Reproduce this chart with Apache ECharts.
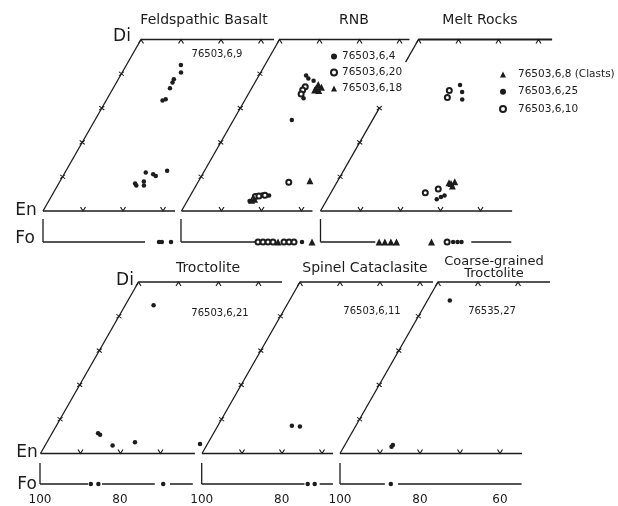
<!DOCTYPE html>
<html>
<head>
<meta charset="utf-8">
<script src="https://cdn.jsdelivr.net/npm/echarts@6/dist/echarts.min.js"></script>
<style>
  html, body { margin: 0; padding: 0; background: #fff; }
  #chart { width: 618px; height: 506px; }
</style>
</head>
<body>
<div id="chart"></div>
<script>
// ---- Pyroxene analyses: [Mg# = 100·Mg/(Mg+Fe), Wo mol%] ----
const basalt_6_9 = [[86.4,42.6],[85.3,40.4],[86.1,38.4],[86.0,37.5],[85.8,35.8],[85.3,32.6],[85.9,32.2],
                    [79.8,11.2],[77.7,10.7],[76.8,10.2],[74.7,11.7],[79.0,8.6],[78.4,7.4],[80.9,8.0],[80.3,7.4]];
const rnb_6_4  = [[88.2,39.5],[87.2,38.6],[85.6,38.0],[85.6,32.9],[85.4,26.5],[84.4,2.9],[82.1,4.8],[80.3,4.5]];
const rnb_6_20 = [[86.8,36.2],[87.0,35.3],[86.8,34.1],[77.3,8.4],[83.6,4.2],[82.8,4.4],[81.4,4.6]];
const rnb_6_18 = [[83.9,36.9],[83.9,35.8],[82.7,36.1],[82.9,35.1],[84.0,35.3],[72.2,8.8],[84.0,3.1],[83.4,3.4]];
const melt_6_8  = [[71.3,8.0],[70.6,8.5],[70.6,7.3],[71.9,8.2]];
const melt_6_25 = [[83.1,36.7],[81.6,34.7],[80.5,32.5],[72.6,3.4],[71.9,4.1],[71.2,4.5]];
const melt_6_10 = [[85.0,35.1],[84.5,33.1],[76.4,5.3],[73.7,6.4]];
const troct_6_21  = [[92.9,43.2],[88.5,5.9],[87.8,5.5],[83.1,2.3],[78.0,3.3],[61.5,2.8]];
const spinel_6_11 = [[81.5,8.1],[79.4,7.9]];
const coarse_27   = [[94.4,44.6],[88.1,2.0],[88.0,2.5]];

// ---- Olivine analyses: Fo mol% ----
const basaltOl_6_9 = [71.0, 70.3, 68.0];
const rnbOl_6_4  = [69.75];
const rnbOl_6_20 = [80.75, 79.5, 78.25, 77.0, 74.25, 73.0, 71.75];
const rnbOl_6_18 = [75.75, 67.25];
const meltOl_6_8  = [85.35, 83.9, 82.4, 81.0, 72.25];
const meltOl_6_25 = [66.85, 65.75, 64.75];
const meltOl_6_10 = [68.35];
const troctOl_6_21  = [87.3, 85.4, 69.2];
const spinelOl_6_11 = [73.5, 71.75];
const coarseOl_27   = [87.3];

// ---- Fo reference line pieces (gaps leave room for the symbols) ----
const basaltFoLine = [[100, 74.5]];
const rnbFoLine    = [[100, 81.2]];
const meltFoLine   = [[100, 86.3], [62.3, 52.3]];
const troctFoLine  = [[100, 88], [84.5, 71.3], [67.5, 61.8]];
const spinelFoLine = [[100, 74.3], [70.5, 67.2]];
const coarseFoLine = [[100, 88.8], [85.5, 54.6]];

// ---- Tick values ----
const mgTicksShort = [90, 80, 70];
const mgTicksLong  = [90, 80, 70, 60];
const diTicks      = [100, 90, 80, 70];
const diTicksShort = [100, 90, 80];
const woTicks      = [10, 20, 30, 40];
const woTicksShort = [10, 20, 30];
const foLabelsD = [100, 80];
const foLabelsE = [100, 80];
const foLabelsF = [100, 80, 60];

const INK = '#1c1c1c';
const FONT = '"DejaVu Sans", "Liberation Sans", sans-serif';
const SHEAR = 0.49;  // rightward lean of the Di–Hd side, in Mg# units per mol% Wo

const shear = p => [p[0] - p[1] * SHEAR, p[1]];

const rows = {
  top:    { quadTop: 39.5, foTop: 219, foH: 23 },
  bottom: { quadTop: 282,  foTop: 463, foH: 22 }
};

const panels = [
  { row: 'top', x: 43, foX: 43, bottomEnd: 67, topEnd: 66.75, bottomTicks: mgTicksShort, topTicks: diTicks,
    sideTicks: woTicks, sideParts: [[0, 50]], foLine: basaltFoLine, foTicks: [90, 80],
    groups: [{ name: '76503,6,9', kind: 'dot', pyx: basalt_6_9, ol: basaltOl_6_9 }] },
  { row: 'top', x: 181.5, foX: 181, bottomEnd: 67.25, topEnd: 67.5, bottomTicks: mgTicksShort, topTicks: diTicks,
    sideTicks: woTicks, sideParts: [[0, 50]], foLine: rnbFoLine, foTicks: [90],
    groups: [{ name: '76503,6,4', kind: 'dot', pyx: rnb_6_4, ol: rnbOl_6_4 },
             { name: '76503,6,20', kind: 'ring', pyx: rnb_6_20, ol: rnbOl_6_20 },
             { name: '76503,6,18', kind: 'tri', pyx: rnb_6_18, ol: rnbOl_6_18 }] },
  { row: 'top', x: 320.5, foX: 320.5, bottomEnd: 52.1, topEnd: 66.6, topWidth: 2, bottomTicks: mgTicksLong, topTicks: diTicks,
    sideTicks: woTicksShort, sideParts: [[0, 30], [43.4, 50]], foLine: meltFoLine, foTicks: [90, 60],
    groups: [{ name: '76503,6,8 (Clasts)', kind: 'tri', pyx: melt_6_8, ol: meltOl_6_8 },
             { name: '76503,6,25', kind: 'dot', pyx: melt_6_25, ol: meltOl_6_25 },
             { name: '76503,6,10', kind: 'ring', pyx: melt_6_10, ol: meltOl_6_10 }] },
  { row: 'bottom', x: 40.5, foX: 40, bottomEnd: 61.4, topEnd: 62.25, bottomTicks: mgTicksShort, topTicks: diTicks,
    sideTicks: woTicks, sideParts: [[0, 50]], foLine: troctFoLine, foTicks: [90, 80], foLabels: foLabelsD,
    groups: [{ name: '76503,6,21', kind: 'dot', pyx: troct_6_21, ol: troctOl_6_21 }] },
  { row: 'bottom', x: 202, foX: 201.7, bottomEnd: 67.25, topEnd: 66.75, bottomTicks: mgTicksShort, topTicks: diTicks,
    sideTicks: woTicks, sideParts: [[0, 50]], foLine: spinelFoLine, foTicks: [90, 80, 70], foLabels: foLabelsE,
    groups: [{ name: '76503,6,11', kind: 'dot', pyx: spinel_6_11, ol: spinelOl_6_11 }] },
  { row: 'bottom', x: 340, foX: 340, bottomEnd: 54.5, topEnd: 72, bottomTicks: mgTicksLong, topTicks: diTicksShort,
    sideTicks: woTicks, sideParts: [[0, 50]], foLine: coarseFoLine, foTicks: [90, 80, 70, 60], foLabels: foLabelsF,
    groups: [{ name: '76535,27', kind: 'dot', pyx: coarse_27, ol: coarseOl_27 }] }
];

const MARK = {
  dot:  { symbol: 'circle', symbolSize: 4.5, itemStyle: { color: INK, opacity: 1 } },
  ring: { symbol: 'emptyCircle', symbolSize: 5, itemStyle: { color: INK, borderColor: INK, borderWidth: 0.9, opacity: 1 } },
  tri:  { symbol: 'triangle', symbolSize: 7, itemStyle: { color: INK, opacity: 1 } }
};
const STROKE = { color: 'rgba(0,0,0,0)', borderColor: INK, borderWidth: 1, opacity: 1 };
const TICK_BOTTOM = { symbol: 'path://M0,0L4,5L8,0', symbolSize: [5, 4], symbolOffset: [0, -2], itemStyle: STROKE };
const TICK_TOP    = { symbol: 'path://M0,5L4,0L8,5', symbolSize: [5, 4], symbolOffset: [0, 2], itemStyle: STROKE };
const TICK_SIDE   = { symbol: 'path://M0,0L8,8M0,8L8,0', symbolSize: [5, 4], itemStyle: STROKE };
const TICK_FO     = { symbol: 'path://M0,0L0,8', symbolSize: [1, 3], symbolOffset: [0, 1.5], itemStyle: STROKE };

const grids = [], xAxes = [], yAxes = [], series = [];

function addGrid(left, top, height, yMax, labels) {
  const i = grids.length;
  grids.push({ left, top, width: 240, height });
  const x = { type: 'value', gridIndex: i, min: 40, max: 100, inverse: true, show: false };
  if (labels) {
    Object.assign(x, {
      show: true,
      axisLine: { show: false }, axisTick: { show: false }, splitLine: { show: false },
      axisLabel: { customValues: labels, margin: 10, fontSize: 12, fontFamily: FONT, color: INK }
    });
  }
  xAxes.push(x);
  yAxes.push({ type: 'value', gridIndex: i, min: 0, max: yMax, show: false });
  return i;
}

function stroke(gi, pts, width) {
  series.push({ type: 'line', xAxisIndex: gi, yAxisIndex: gi, data: pts, symbol: 'none', clip: false,
    silent: true, animation: false, z: 2, lineStyle: { color: INK, width: width || 1.3 } });
}

function marks(gi, pts, style, name) {
  const s = Object.assign({ type: 'scatter', xAxisIndex: gi, yAxisIndex: gi, data: pts, clip: false,
    silent: true, animation: false, z: 3 }, style);
  if (name) s.name = name;
  series.push(s);
}

panels.forEach(p => {
  const r = rows[p.row];
  const qi = addGrid(p.x, r.quadTop, 171.5, 50);
  const fi = addGrid(p.foX, r.foTop, r.foH, 1, p.foLabels);

  // quadrilateral sides: En–Fs base, Di–Hd top, En–Di side
  stroke(qi, [shear([100, 0]), shear([p.bottomEnd, 0])]);
  stroke(qi, [shear([100, 50]), shear([p.topEnd, 50])], p.topWidth);
  p.sideParts.forEach(s => stroke(qi, [shear([100, s[0]]), shear([100, s[1]])]));
  marks(qi, p.bottomTicks.map(v => shear([v, 0])), TICK_BOTTOM);
  marks(qi, p.topTicks.map(v => shear([v, 50])), TICK_TOP);
  marks(qi, p.sideTicks.map(w => shear([100, w])), TICK_SIDE);

  // olivine strip
  stroke(fi, [[100, 0], [100, 1]]);
  p.foLine.forEach(s => stroke(fi, [[s[0], 0], [s[1], 0]]));
  marks(fi, p.foTicks.map(v => [v, 0]), TICK_FO);

  p.groups.forEach(g => {
    marks(qi, g.pyx.map(shear), MARK[g.kind], g.name);
    marks(fi, g.ol.map(v => [v, 0]), MARK[g.kind], g.name);
  });
});

function txt(text, x, y, size, extra) {
  return { type: 'text', silent: true, z: 10,
    style: Object.assign({ text, x, y, fill: INK, font: size + 'px ' + FONT, textAlign: 'center', textVerticalAlign: 'middle' }, extra || {}) };
}

const legendText = { fontSize: 10.5, fontFamily: FONT, color: INK };

const chart = echarts.init(document.getElementById('chart'), null, { renderer: 'canvas' });
chart.setOption({
  backgroundColor: '#fff',
  animation: false,
  grid: grids,
  xAxis: xAxes,
  yAxis: yAxes,
  series,
  legend: [
    { data: [{ name: '76503,6,4', icon: 'circle' }, { name: '76503,6,20', icon: 'emptyCircle' }, { name: '76503,6,18', icon: 'triangle' }],
      orient: 'vertical', left: 330, top: 51, padding: 0, itemWidth: 6, itemHeight: 6, itemGap: 5,
      selectedMode: false, textStyle: legendText, itemStyle: { borderWidth: 0.9 } },
    { data: [{ name: '76503,6,8 (Clasts)', icon: 'triangle' }, { name: '76503,6,25', icon: 'circle' }, { name: '76503,6,10', icon: 'emptyCircle' }],
      orient: 'vertical', left: 499, top: 69, padding: 0, itemWidth: 6, itemHeight: 6, itemGap: 6.2,
      selectedMode: false, textStyle: Object.assign({ padding: [0, 0, 0, 7] }, legendText), itemStyle: { borderWidth: 0.9 } }
  ],
  graphic: [
    txt('Feldspathic Basalt', 204, 20, 14),
    txt('RNB', 354, 20, 14),
    txt('Melt Rocks', 480, 20, 14),
    txt('Troctolite', 208, 268, 14),
    txt('Spinel Cataclasite', 365, 268, 14),
    txt('Coarse-grained\nTroctolite', 494, 268, 13, { lineHeight: 12 }),
    txt('Di', 122, 37, 17),
    txt('En', 26, 211, 17),
    txt('Fo', 25, 239, 17),
    txt('Di', 125, 281, 17),
    txt('En', 27, 453, 17),
    txt('Fo', 27, 485, 17),
    txt('76503,6,9', 217, 54, 10),
    txt('76503,6,21', 220, 313, 10),
    txt('76503,6,11', 372, 311, 10),
    txt('76535,27', 492, 311, 10)
  ]
});
</script>
</body>
</html>
